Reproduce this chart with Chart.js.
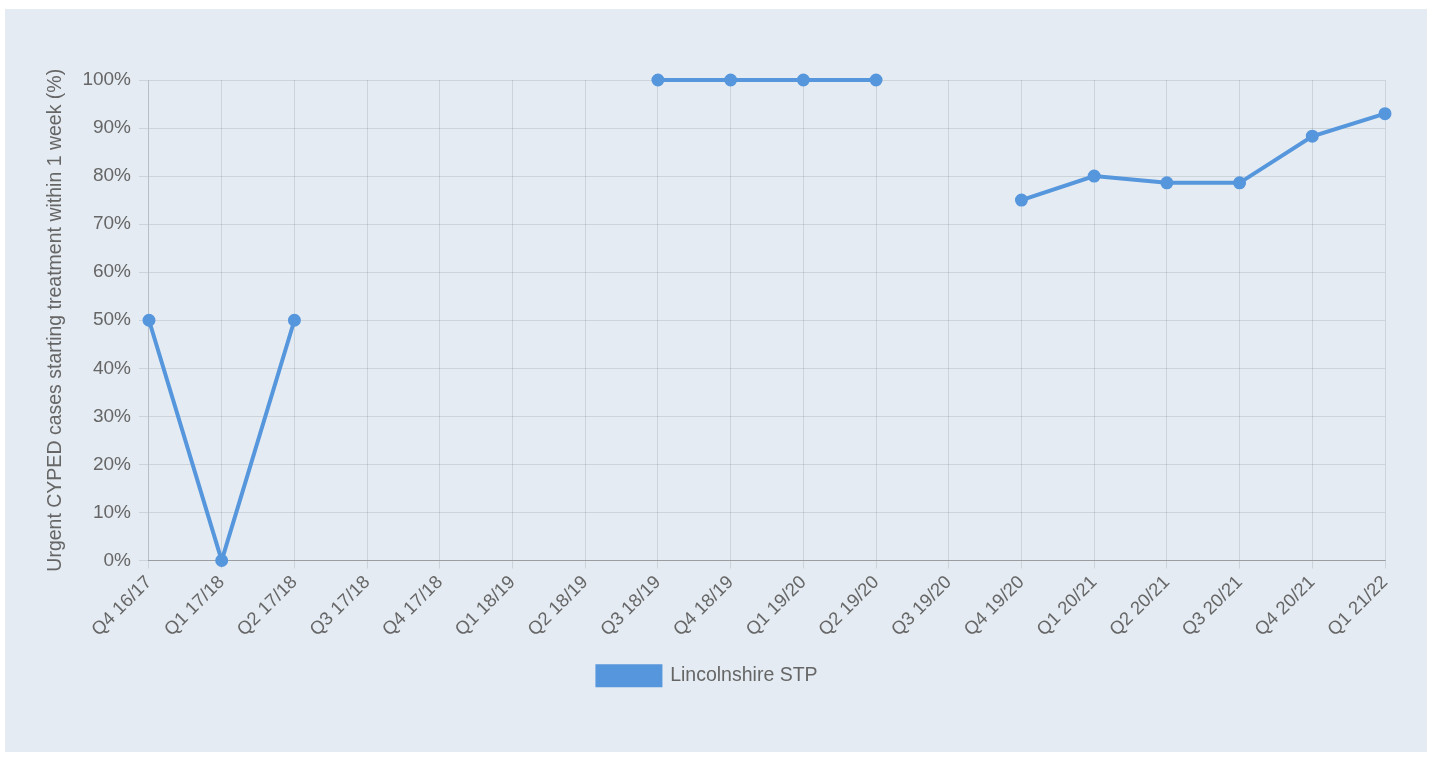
<!DOCTYPE html>
<html>
<head>
<meta charset="utf-8">
<script src="https://cdn.jsdelivr.net/npm/chart.js@4"></script>
<style>
  body { margin: 0; background: #ffffff; }
  #panel { position: absolute; left: 5px; top: 9px; width: 1422px; height: 743px; background: #e4ebf2; }
</style>
</head>
<body>
<div id="panel"><canvas id="lineChart"></canvas></div>
<script>
let quarters = ['Q4 16/17', 'Q1 17/18', 'Q2 17/18', 'Q3 17/18', 'Q4 17/18', 'Q1 18/19', 'Q2 18/19',
  'Q3 18/19', 'Q4 18/19', 'Q1 19/20', 'Q2 19/20', 'Q3 19/20', 'Q4 19/20', 'Q1 20/21', 'Q2 20/21',
  'Q3 20/21', 'Q4 20/21', 'Q1 21/22'];
let lincolnshire = [50, 0, 50, null, null, null, null, 100, 100, 100, 100, null, 75, 80, 78.6, 78.6, 88.3, 93];
let yTicks = [0, 10, 20, 30, 40, 50, 60, 70, 80, 90, 100];

let lineColor = '#5596dc';

Chart.defaults.font.family = '"Liberation Sans", Arial, sans-serif';
Chart.defaults.font.size = 19;
Chart.defaults.color = '#666666';

const ctx = document.getElementById('lineChart');

new Chart(ctx, {
  type: 'line',
  data: {
    labels: quarters,
    datasets: [{
      label: 'Lincolnshire STP',
      data: lincolnshire,
      borderColor: lineColor,
      backgroundColor: lineColor,
      borderWidth: 4,
      pointRadius: 4.5,
      pointHoverRadius: 5,
      fill: false,
      tension: 0,
      spanGaps: false,
      clip: 8
    }]
  },
  options: {
    responsive: true,
    maintainAspectRatio: false,
    animation: false,
    layout: {
      padding: { left: 25, right: 42, top: 71, bottom: 56.5 }
    },
    plugins: {
      legend: {
        position: 'bottom',
        labels: {
          boxWidth: 63,
          boxHeight: 19,
          padding: 22,
          font: { size: 19.5 }
        }
      },
      tooltip: { enabled: false }
    },
    scales: {
      x: {
        offset: false,
        grid: { color: 'rgba(0,0,0,0.1)', tickLength: 8 },
        border: { color: 'rgba(0,0,0,0.25)' },
        ticks: { maxRotation: 45, minRotation: 45, autoSkip: false, font: { size: 18.5 } }
      },
      y: {
        min: 0,
        max: 100,
        grid: { color: 'rgba(0,0,0,0.1)', tickLength: 10 },
        border: { color: 'rgba(0,0,0,0.1)' },
        afterBuildTicks: function(axis) {
          axis.ticks = yTicks.map(function(v) { return { value: v }; });
        },
        ticks: {
          font: { size: 19 },
          padding: 8,
          callback: function(value) { return value + '%'; }
        },
        title: {
          display: true,
          text: 'Urgent CYPED cases starting treatment within 1 week (%)',
          font: { size: 19.5 },
          padding: { top: 14, bottom: 7 }
        }
      }
    }
  }
});
</script>
</body>
</html>
